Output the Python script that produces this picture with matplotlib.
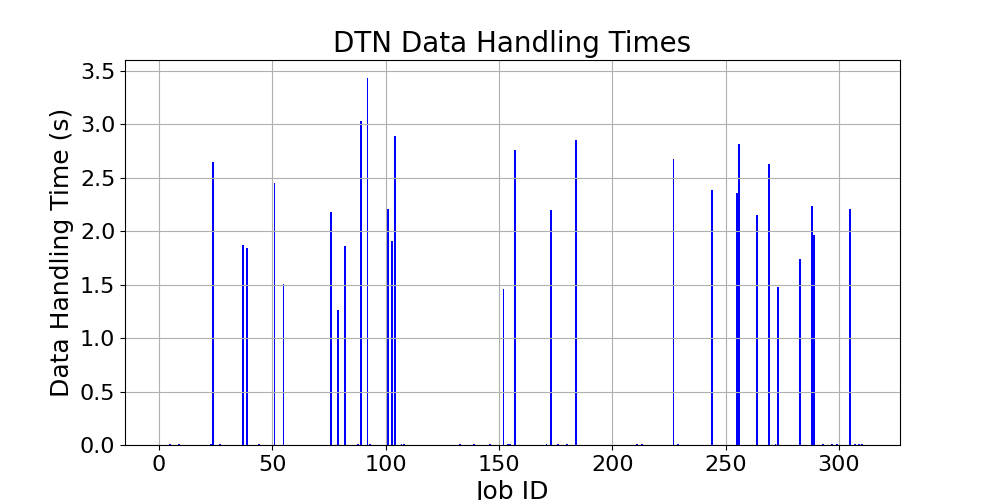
import matplotlib
matplotlib.use("Agg")
import matplotlib.pyplot as plt
import numpy as np

first_job = 1
last_job = 311

active_jobs = [5, 9, 23, 24, 27, 37, 39, 44, 51, 55, 76, 79, 82, 88, 89, 92, 93,
               101, 103, 104, 107, 108, 133, 139, 146, 152, 154, 155, 157, 171,
               173, 176, 180, 184, 211, 213, 227, 229, 244, 255, 256, 264, 269,
               272, 273, 283, 288, 289, 293, 297, 299, 305, 307, 309, 310]
active_times = [0.01, 0.01, 0.01, 2.65, 0.01, 1.875, 1.847, 0.01, 2.447, 1.509,
                2.184, 1.266, 1.866, 0.01, 3.028, 3.43, 0.01,
                2.203, 1.912, 2.887, 0.01, 0.01, 0.01, 0.01, 0.01, 1.462, 0.01,
                0.01, 2.759, 0.01, 2.194, 0.01, 0.01, 2.85, 0.01, 0.01, 2.672,
                0.01, 2.39, 2.362, 2.812, 2.147, 2.625, 0.01, 1.48, 1.744, 2.24,
                1.969, 0.01, 0.01, 0.01, 2.203, 0.01, 0.01, 0.01]

job_ids = np.arange(first_job, last_job + 1)
times = np.zeros(len(job_ids))
for j, t in zip(active_jobs, active_times):
    times[j - first_job] = t

fig, ax = plt.subplots(figsize=(10, 5), dpi=100)
ax.bar(job_ids, times, color="blue")
ax.set_title("DTN Data Handling Times", fontsize=20)
ax.set_xlabel("Job ID", fontsize=18)
ax.set_ylabel("Data Handling Time (s)", fontsize=18)
ax.tick_params(labelsize=16)
ax.grid(True)
fig.savefig("out.png")
